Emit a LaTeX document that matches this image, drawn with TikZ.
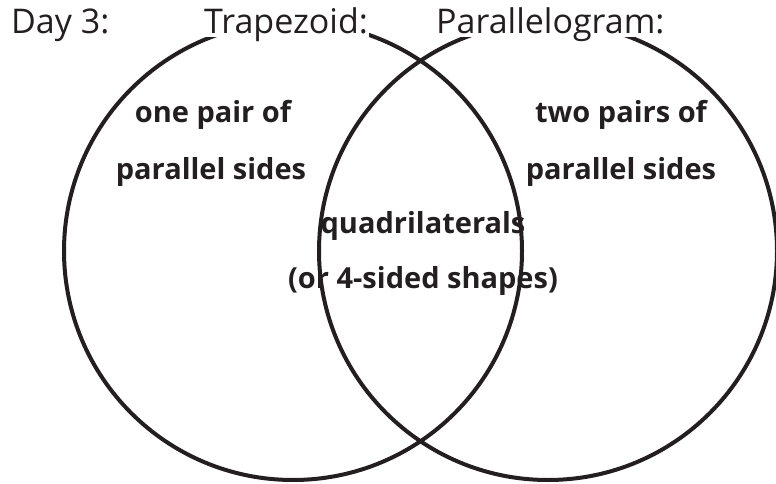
\documentclass[tikz,border=0pt]{standalone}
\usepackage{fontspec}
\setmainfont{Open Sans}
\usetikzlibrary{positioning}
\definecolor{ink}{HTML}{231F20}
\tikzstyle{ring}=[draw=ink,line width=4pt]
\tikzstyle{title}=[font=\fontsize{34}{38}\selectfont,text=ink,fill=white,inner sep=1pt,text depth=2pt,anchor=base west]
\tikzstyle{fact}=[font=\fontsize{29}{32}\selectfont\bfseries,text=ink,inner sep=0pt,anchor=base]

\begin{document}
\begin{tikzpicture}[x=1pt,y=-1pt]
  \useasboundingbox (0,0) rectangle (776,484);
  % the two sets
  \draw[ring] (293,251) circle[radius=229pt];
  \draw[ring] (548,251) circle[radius=229pt];
  % headings
  \node[title,fill=none] (day) at (10,34) {Day 3:};
  \node[title] (trap) at (203,34) {Trapezoid:};
  \node[title] (para) at (435,34) {Parallelogram:};
  % left set
  \node[fact] (one) at (213,123) {one pair of};
  \node[fact] (onesides) at (211,179) {parallel sides};
  % right set
  \node[fact] (two) at (621,123) {two pairs of};
  \node[fact] (twosides) at (621,179) {parallel sides};
  % both
  \node[fact] (quad) at (423,233) {quadrilaterals};
  \node[fact] (shapes) at (423,288) {(or 4-sided shapes)};
\end{tikzpicture}
\end{document}
